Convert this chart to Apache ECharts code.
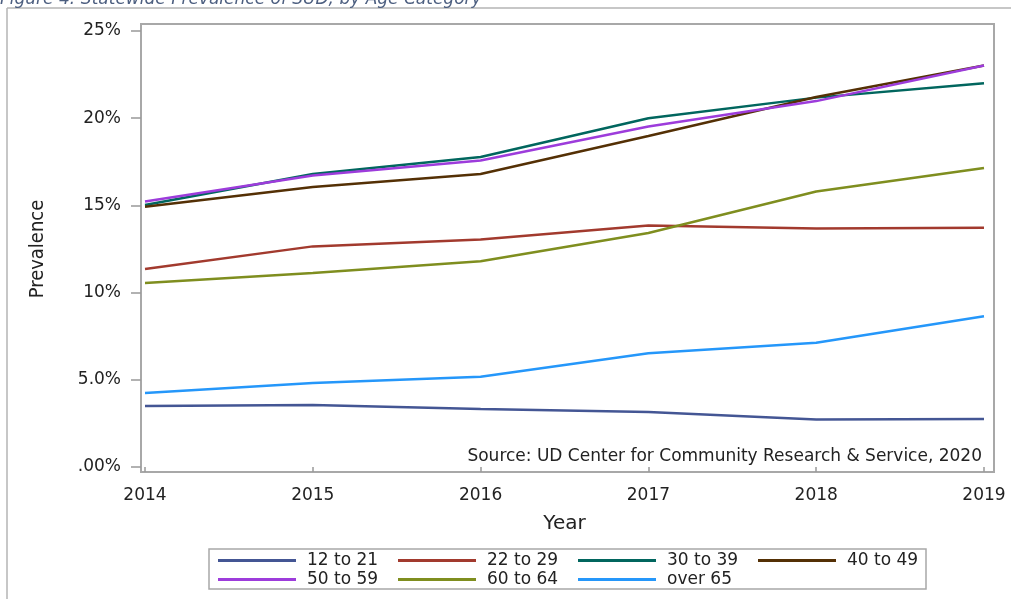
<!DOCTYPE html>
<html>
<head>
<meta charset="utf-8">
<script src="https://cdn.jsdelivr.net/npm/echarts@6/dist/echarts.min.js"></script>
<style>
html,body{margin:0;padding:0;background:#fff;}
#c{width:1011px;height:599px;}
</style>
</head>
<body>
<div id="c"></div>
<script>
var years = ['2014','2015','2016','2017','2018','2019'];
var yTickLabels = {0:'.00%',5:'5.0%',10:'10%',15:'15%',20:'20%',25:'25%'};
var s12to21 = [3.50, 3.56, 3.33, 3.15, 2.72, 2.75];
var s22to29 = [11.35, 12.65, 13.05, 13.85, 13.68, 13.72];
var s30to39 = [15.02, 16.80, 17.78, 20.00, 21.18, 22.00];
var s40to49 = [14.92, 16.05, 16.80, 18.98, 21.22, 23.02];
var s50to59 = [15.22, 16.72, 17.58, 19.52, 20.98, 23.02];
var s60to64 = [10.55, 11.12, 11.80, 13.42, 15.80, 17.15];
var sOver65 = [4.25, 4.82, 5.18, 6.52, 7.12, 8.65];
var seriesNames = ['12 to 21','22 to 29','30 to 39','40 to 49','50 to 59','60 to 64','over 65'];
var seriesData = [s12to21, s22to29, s30to39, s40to49, s50to59, s60to64, sOver65];
var colors = ['#445694','#A23A2E','#01665E','#543005','#9D3CDB','#7F8E1F','#2597FA'];

var chart = echarts.init(document.getElementById('c'), null, {renderer:'canvas'});
var font = 'DejaVu Sans';
chart.setOption({
  animation: false,
  color: colors,
  title: [{
    text: 'Source: UD Center for Community Research & Service, 2020',
    right: 29, top: 448, padding: 0,
    textStyle: {fontFamily: font, fontSize: 17, fontWeight: 'normal', color: '#222'}
  }],
  grid: {left: 145, right: 27, top: 31, bottom: 132, containLabel: false},
  xAxis: {
    type: 'category', data: years, boundaryGap: false, offset: 5,
    axisLine: {show: false},
    axisTick: {show: true, length: 5, alignWithLabel: true, lineStyle: {color: '#999', width: 1.5}},
    axisLabel: {margin: 15, fontFamily: font, fontSize: 17, color: '#222'},
    splitLine: {show: false},
    name: 'Year', nameLocation: 'middle', nameGap: 42,
    nameTextStyle: {fontFamily: font, fontSize: 20, color: '#222'}
  },
  yAxis: {
    type: 'value', min: 0, max: 25, interval: 5, offset: 4,
    axisLine: {show: false},
    axisTick: {show: true, length: 10, lineStyle: {color: '#999', width: 1.5}},
    axisLabel: {margin: 20, fontFamily: font, fontSize: 17, color: '#222',
      formatter: function(v){ return yTickLabels[v] !== undefined ? yTickLabels[v] : ''; }},
    splitLine: {show: false},
    name: 'Prevalence', nameLocation: 'middle', nameGap: 93, nameRotate: 90,
    nameTextStyle: {fontFamily: 'Liberation Sans Narrow, DejaVu Sans Condensed, sans-serif', fontSize: 20, color: '#222'}
  },
  legend: {
    left: 209, top: 549, width: 716,
    orient: 'horizontal',
    padding: [3, 2, 1, 9],
    itemGap: 2,
    itemWidth: 78, itemHeight: 3,
    icon: 'rect',
    borderColor: '#a8a8a8', borderWidth: 1.5,
    formatter: function(name){ return (name === '40 to 49' ? '{m|' : '{n|') + name + '}'; },
    textStyle: {
      fontFamily: font, fontSize: 17, color: '#222',
      rich: {
        n: {fontFamily: font, fontSize: 17, color: '#222', width: 89, height: 14, lineHeight: 14, padding: [0,0,0,6]},
        m: {fontFamily: font, fontSize: 17, color: '#222', width: 77, height: 14, lineHeight: 14, padding: [0,0,0,6]}
      }
    },
    data: seriesNames
  },
  graphic: [
    {type: 'rect', silent: true, z: 0,
      shape: {x: 141, y: 24, width: 853, height: 448},
      style: {fill: 'none', stroke: '#a8a8a8', lineWidth: 2}},
    {type: 'line', silent: true, shape: {x1: 7, y1: 8, x2: 1011, y2: 8}, style: {stroke: '#b4b4b4', lineWidth: 1.5}},
    {type: 'line', silent: true, shape: {x1: 7, y1: 8, x2: 7, y2: 599}, style: {stroke: '#b4b4b4', lineWidth: 1.5}},
    {type: 'text', silent: true, left: 0, top: -9,
      style: {text: 'Figure 4: Statewide Prevalence of SUD, by Age Category',
        font: 'italic 17px DejaVu Sans', fill: '#4d5f80'}}
  ],
  series: seriesNames.map(function(n, i){
    return {name: n, type: 'line', data: seriesData[i], showSymbol: false, symbol: 'none',
      lineStyle: {width: 2.5, color: colors[i]}, itemStyle: {color: colors[i]}, z: 3};
  })
});
</script>
</body>
</html>
